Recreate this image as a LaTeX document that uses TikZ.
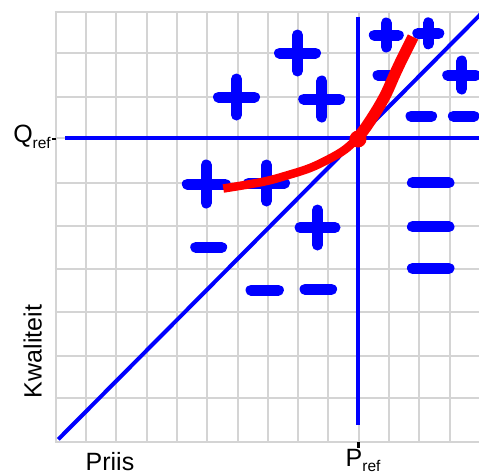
\documentclass[tikz,border=0pt]{standalone}
\usepackage{fontspec}
\setmainfont{Liberation Sans}
\definecolor{pureblue}{RGB}{0,0,255}
\definecolor{purered}{RGB}{255,0,0}
\definecolor{gridgray}{RGB}{212,212,212}
\newcommand\plusat[3]{\draw[signline] ({#1-#3},#2) -- ({#1+#3},#2) (#1,{#2-#3}) -- (#1,{#2+#3});}
\newcommand\minusat[3]{\draw[signline] ({#1-#3},#2) -- ({#1+#3},#2);}
\begin{document}
\begin{tikzpicture}[x=1pt,y=-1pt,
  gridline/.style={draw=gridgray, line width=2pt},
  axisline/.style={draw=pureblue, line width=4pt},
  signline/.style={draw=pureblue, line width=11pt, line cap=round},
  tickmark/.style={draw=black, line width=2.5pt},
  redcurve/.style={draw=purered, line cap=butt},
  lbl/.style={font=\fontsize{25}{29}\selectfont, inner sep=0pt}
]
\useasboundingbox (0,0) rectangle (479,474);
% grid
\foreach \k in {0,...,14}
  \draw[gridline] ({55.7+30.3*\k},11.7) -- ({55.7+30.3*\k},441.7);
\foreach \y in {11.7,52.7,96.7,138.3,182.5,226,269,312.3,355.7,398.3,441.7}
  \draw[gridline] (54.7,\y) -- (481,\y);
% reference coordinates
\coordinate (O) at (357.5,138.3);
\coordinate (qstart) at (65,138.3);
\coordinate (qend) at (481,138.3);
\coordinate (ptop) at (357.5,16.7);
\coordinate (pbot) at (357.5,425);
\coordinate (dstart) at (58.3,439.3);
\coordinate (dend) at (482,12.8);
% blue lines
\draw[axisline] (qstart) -- (qend);
\draw[axisline] (ptop) -- (pbot);
\draw[axisline] (dstart) -- (O) -- (dend);
% plus signs
\plusat{236.5}{97}{18}
\plusat{297.5}{53}{18}
\plusat{321.7}{99}{18}
\plusat{206.3}{184}{19}
\plusat{266.5}{183}{18}
\plusat{317.5}{227.5}{17.5}
\plusat{386.3}{35}{12}
\plusat{428.3}{33.3}{10.5}
\plusat{461.7}{75}{14}
% minus signs
\minusat{208.7}{247.3}{13}
\minusat{264.7}{290}{13.7}
\minusat{318.3}{289.3}{13.3}
\minusat{385}{75}{7}
\minusat{421.3}{116}{10.3}
\minusat{463.7}{116}{10.3}
\minusat{430.7}{182.7}{18.3}
\minusat{430.7}{226.7}{18.3}
\minusat{430.7}{268.3}{18.3}
% red curve
\draw[redcurve, line width=8.5pt] plot[smooth, tension=0.6] coordinates {(223.3,188.5) (245,185) (266.7,181) (286.7,175.5) (310,168) (330,158.5) (345,149.5) (357.5,138.3)};
\draw[redcurve, line width=11.5pt] plot[smooth, tension=0.6] coordinates {(357.5,138.3) (366,127) (376.7,110.5) (386,94) (394,76) (401,61) (407,49) (413,37)};
\fill[purered] (358,139) circle (8.5pt);
% ticks
\coordinate (qtick) at (52,139);
\coordinate (qtickend) at (55.7,139);
\coordinate (ptick) at (358.3,441.7);
\coordinate (ptickend) at (358.3,448);
\draw[tickmark] (qtick) -- (qtickend);
\draw[tickmark] (ptick) -- (ptickend);
% labels
\node[lbl, anchor=base east] (qref) at (51,142.5) {Q\raisebox{-5.5pt}{\fontsize{15.5}{15.5}\selectfont ref}};
\node[lbl, anchor=base west] (pref) at (345.5,466) {P\raisebox{-5pt}{\fontsize{15.5}{15.5}\selectfont ref}};
\node[lbl, anchor=base, rotate=90] (kw) at (41.7,351.5) {Kwaliteit};
\node[lbl, anchor=base] (pr) at (110,470) {Priis};
\end{tikzpicture}
\end{document}
